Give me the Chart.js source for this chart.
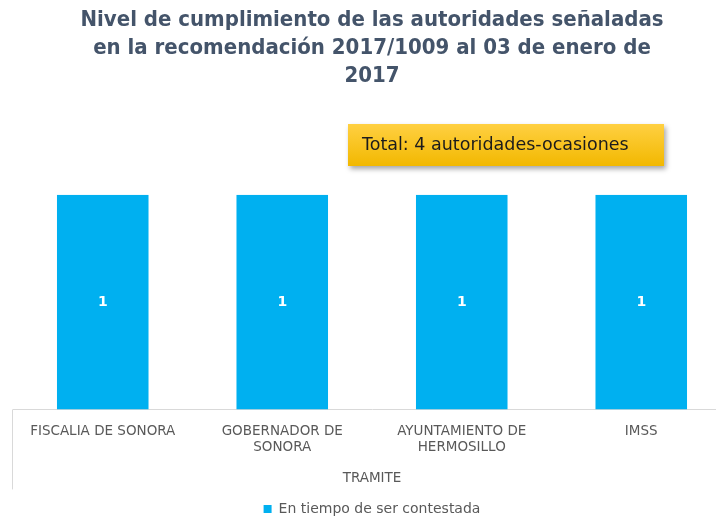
<!DOCTYPE html>
<html>
<head>
<meta charset="utf-8">
<script src="https://cdn.jsdelivr.net/npm/chart.js@4"></script>
<style>
  html, body { margin: 0; padding: 0; background: #fff; overflow: hidden; }
  #wrap { position: relative; width: 731px; height: 520px; }
  #total {
    position: absolute; left: 348px; top: 124px; width: 316px; height: 42px;
    box-sizing: border-box; padding-left: 14px; line-height: 40px;
    font-family: "DejaVu Sans", sans-serif; font-size: 17.5px; color: #1c1c1c;
    background: linear-gradient(#FFD042, #F2B800);
    box-shadow: 2px 3px 5px rgba(0,0,0,0.35);
  }
</style>
</head>
<body>
<div id="wrap">
  <canvas id="chart" width="731" height="520"></canvas>
  <div id="total">Total: 4 autoridades-ocasiones</div>
</div>
<script>
// datos
const categorias = [['FISCALIA DE SONORA'], ['GOBERNADOR DE', 'SONORA'], ['AYUNTAMIENTO DE', 'HERMOSILLO'], ['IMSS']];
const enTiempo = [1, 1, 1, 1];
const serieNombre = 'En tiempo de ser contestada';
const titulo = ['Nivel de cumplimiento de las autoridades señaladas', 'en la recomendación 2017/1009 al 03 de enero de', '2017'];

const FONT = '"DejaVu Sans", sans-serif';
const FONT_TITULO = '"DejaVu Sans Condensed", "DejaVu Sans", sans-serif';

// etiquetas dentro de las barras
const etiquetas = {
  id: 'etiquetas',
  afterDatasetsDraw(chart) {
    const ctx = chart.ctx;
    const meta = chart.getDatasetMeta(0);
    ctx.save();
    ctx.font = 'bold 14px ' + FONT;
    ctx.fillStyle = '#fff';
    ctx.textAlign = 'center';
    ctx.textBaseline = 'middle';
    meta.data.forEach((bar, i) => {
      ctx.fillText(chart.data.datasets[0].data[i], bar.x, (bar.y + bar.base) / 2);
    });
    ctx.restore();
  }
};

// linea divisoria izquierda bajo el eje
const divisor = {
  id: 'divisor',
  afterDraw(chart) {
    const ctx = chart.ctx;
    const a = chart.chartArea;
    ctx.save();
    ctx.strokeStyle = '#d9d9d9';
    ctx.lineWidth = 1;
    ctx.beginPath();
    ctx.moveTo(a.left - 0.5, a.bottom);
    ctx.lineTo(a.left - 0.5, a.bottom + 80);
    ctx.stroke();
    ctx.restore();
  }
};

new Chart(document.getElementById('chart'), {
  type: 'bar',
  data: {
    labels: categorias,
    datasets: [{
      label: serieNombre,
      data: enTiempo,
      backgroundColor: '#00B0F0',
      categoryPercentage: 1,
      barPercentage: 0.51
    }]
  },
  options: {
    responsive: false,
    animation: false,
    layout: { padding: { left: 13, right: 0, top: 6, bottom: -6 } },
    plugins: {
      title: {
        display: true,
        text: titulo,
        color: '#44546A',
        font: { family: FONT_TITULO, size: 22, weight: 'bold', lineHeight: 1.27 },
        padding: { top: 0, bottom: 105 },
        align: 'center'
      },
      legend: {
        position: 'bottom',
        labels: {
          color: '#595959',
          font: { family: FONT, size: 14 },
          boxWidth: 8, boxHeight: 8, padding: 0
        }
      },
      tooltip: { enabled: false }
    },
    scales: {
      x: {
        grid: { display: false },
        border: { color: '#d9d9d9' },
        ticks: { color: '#595959', font: { family: FONT, size: 13.5 }, padding: 6, maxRotation: 0 },
        title: { display: true, text: 'TRAMITE', color: '#595959', font: { family: FONT, size: 13.5 }, padding: { top: 9, bottom: 15 } }
      },
      y: {
        display: false,
        min: 0,
        max: 1
      }
    }
  },
  plugins: [etiquetas, divisor]
});
</script>
</body>
</html>
